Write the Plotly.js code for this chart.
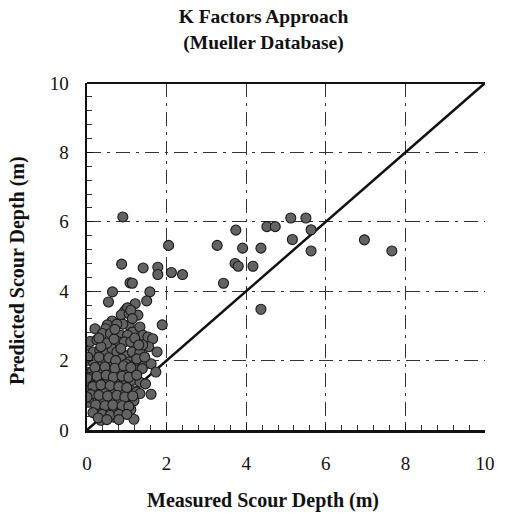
<!DOCTYPE html>
<html>
<head>
<meta charset="utf-8">
<script src="https://cdn.plot.ly/plotly-3.0.1.min.js"></script>
<style>html,body{margin:0;padding:0;background:#fff;}#chart{width:527px;height:520px;}</style>
</head>
<body>
<div id="chart"></div>
<script>
// Measured scour depth (m)
var measured = [
  0.90, 2.05, 0.87, 1.41, 1.78, 1.78, 2.12, 2.40, 1.08, 1.14, 0.64, 1.58, 0.54, 1.50, 1.21, 1.00, 1.89,
  5.12, 5.50, 3.74, 4.52, 4.73, 5.16, 3.27, 3.91, 4.37, 3.72, 3.80, 4.17, 3.43, 4.37, 5.63, 5.63, 6.97, 7.66,
  0.94, 1.02, 0.86, 1.06, 1.28, 1.10,
  0.63, 0.51, 0.47, 0.20, 0.39, 0.59,
  1.06, 1.14, 1.14, 1.33, 1.41, 1.53, 1.65,
  0.86, 1.02, 0.79, 0.94, 1.10,
  0.00, 0.16, 0.32, 0.43, 0.63, 0.75, 0.94, 1.14, 1.33, 1.76,
  0.00, 0.16, 0.39, 0.63, 0.86, 1.06, 1.21, 1.41, 1.61,
  0.00, 0.12, 0.35, 0.59, 0.82, 1.00, 1.20, 1.39, 1.73,
  0.04, 0.27, 0.51, 0.74, 0.98, 1.14, 1.33, 1.47,
  0.00, 0.20, 0.43, 0.67, 0.90, 1.10, 1.25, 1.33, 1.61,
  0.12, 0.35, 0.59, 0.82, 1.02, 1.18,
  0.24, 0.47, 0.70, 0.94, 1.10,
  0.35, 0.67, 1.18,
  0.08, 0.25, 0.50, 0.68, 0.30, 0.55, 0.72, 0.98, 0.20, 0.45, 0.70, 0.92, 1.10,
  0.05, 0.25, 0.48, 0.66, 0.88, 1.05, 1.25, 0.15, 0.35, 0.58, 0.80, 1.00,
  0.10, 0.30, 0.52, 0.75, 0.95, 1.15, 0.05, 0.22, 0.45, 0.65, 0.88, 1.05,
  0.15, 0.38, 0.58, 0.80, 1.00, 0.28, 0.50, 0.80,
  0.35, 0.85, 1.25, 1.45, 1.55, 1.40, 0.90, 0.75, 0.70, 0.30, 1.20, 1.30,
  0.00, 0.00, 0.02
];
// Predicted scour depth (m)
var predicted = [
  6.14, 5.32, 4.78, 4.67, 4.69, 4.48, 4.54, 4.48, 4.24, 4.23, 3.98, 3.98, 3.69, 3.72, 3.64, 3.50, 3.03,
  6.11, 6.11, 5.76, 5.86, 5.86, 5.49, 5.32, 5.24, 5.24, 4.80, 4.72, 4.72, 4.23, 3.48, 5.77, 5.16, 5.48, 5.16,
  3.42, 3.52, 3.32, 3.35, 3.31, 3.45,
  3.14, 3.03, 2.92, 2.92, 2.78, 2.78,
  3.02, 3.21, 2.82, 2.97, 2.73, 2.68, 2.63,
  2.73, 2.73, 2.54, 2.54, 2.54,
  2.44, 2.25, 2.30, 2.25, 2.34, 2.25, 2.15, 2.25, 2.25, 2.25,
  2.01, 1.96, 1.96, 1.91, 2.05, 1.96, 1.91, 1.86, 1.91,
  1.67, 1.67, 1.67, 1.62, 1.72, 1.67, 1.72, 1.77, 1.67,
  1.38, 1.38, 1.43, 1.38, 1.38, 1.43, 1.38, 1.33,
  1.14, 1.14, 1.19, 1.14, 1.09, 1.14, 1.10, 1.05, 1.03,
  0.89, 0.84, 0.84, 0.89, 0.79, 0.84,
  0.59, 0.55, 0.59, 0.55, 0.59,
  0.28, 0.37, 0.31,
  2.55, 2.60, 2.50, 2.62, 2.10, 2.08, 2.00, 1.90, 1.80, 1.82, 1.78, 1.85, 1.80,
  1.52, 1.55, 1.58, 1.52, 1.55, 1.52, 1.58, 1.25, 1.30, 1.28, 1.25, 1.22,
  1.02, 1.00, 0.98, 1.00, 0.95, 0.98, 0.80, 0.72, 0.70, 0.72, 0.70, 0.68,
  0.50, 0.45, 0.42, 0.45, 0.45, 0.35, 0.30, 0.30,
  2.40, 2.35, 2.05, 2.10, 2.40, 2.45, 3.05, 3.05, 2.90, 2.65, 2.65, 2.45,
  0.95, 1.50, 2.10
];
// Line of perfect agreement
var lineX = [0, 10];
var lineY = [0, 10];
var tickVals = [0, 2, 4, 6, 8, 10];
var tickText = ['0', '2', '4', '6', '8', '10'];

var serif = 'Liberation Serif, Times New Roman, serif';

var traces = [
  {
    x: lineX, y: lineY, type: 'scatter', mode: 'lines',
    line: {color: '#111', width: 2.5}, hoverinfo: 'skip', showlegend: false
  },
  {
    x: measured, y: predicted, type: 'scatter', mode: 'markers',
    marker: {symbol: 'circle', size: 10, color: '#636363', line: {color: '#1a1a1a', width: 1.1}},
    showlegend: false
  }
];

var axisCommon = {
  range: [0, 10], tickvals: tickVals, ticktext: tickText,
  showline: true, linecolor: '#111', linewidth: 2.5, mirror: false,
  ticks: 'inside', ticklen: 6, tickwidth: 1, tickcolor: '#111',
  minor: {dtick: 0.4, tick0: 0, ticks: 'inside', ticklen: 5, tickwidth: 1, tickcolor: '#333', showgrid: false},
  showgrid: true, gridcolor: '#333', gridwidth: 1, griddash: '14px,6px,3px,6px',
  zeroline: false, tickfont: {family: serif, size: 19, color: '#111'}, fixedrange: true
};

var layout = {
  width: 527, height: 520,
  margin: {l: 87, r: 42, t: 83, b: 90, pad: 0},
  paper_bgcolor: '#fff', plot_bgcolor: '#fff',
  title: {
    text: '<b>K Factors Approach<br>(Mueller Database)</b>',
    font: {family: serif, size: 19.5, color: '#111'},
    xref: 'container', x: 0.5, xanchor: 'center',
    yref: 'container', y: 0.955, yanchor: 'top'
  },
  xaxis: Object.assign({}, axisCommon, {ticklabelstandoff: 15}),
  yaxis: Object.assign({}, axisCommon, {ticklabelstandoff: 12}),
  shapes: [
    {type: 'line', xref: 'paper', yref: 'paper', x0: 0, x1: 1, y0: 1, y1: 1,
     line: {color: '#111', width: 2}}
  ],
  annotations: [
    {text: '<b>Measured Scour Depth (m)</b>', xref: 'paper', yref: 'paper',
     x: 0.442, y: -0.202, xanchor: 'center', yanchor: 'middle', showarrow: false,
     font: {family: serif, size: 20, color: '#111'}},
    {text: '<b>Predicted Scour Depth (m)</b>', xref: 'paper', yref: 'paper',
     x: -0.176, y: 0.461, xanchor: 'center', yanchor: 'middle', showarrow: false, textangle: -90,
     font: {family: serif, size: 20, color: '#111'}}
  ],
  showlegend: false
};

Plotly.newPlot('chart', traces, layout, {staticPlot: true, displayModeBar: false});
</script>
</body>
</html>
